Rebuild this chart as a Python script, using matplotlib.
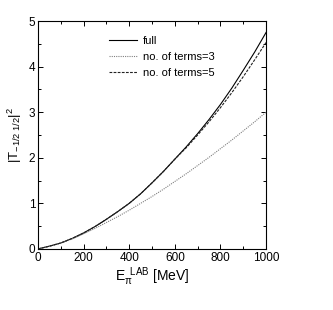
import matplotlib
matplotlib.use("Agg")
import matplotlib.pyplot as plt
from matplotlib.ticker import MultipleLocator

plt.rcParams["font.family"] = ["Liberation Sans", "DejaVu Sans"]
plt.rcParams["mathtext.fontset"] = "custom"
plt.rcParams["mathtext.rm"] = "Liberation Sans"
plt.rcParams["mathtext.it"] = "Liberation Sans"

# --- data ---
energy = [0, 50, 100, 150, 200, 250, 300, 350, 400, 450, 500,
          550, 600, 650, 700, 750, 800, 850, 900, 950, 1000]
full = [0, 0.06, 0.13, 0.23, 0.35, 0.49, 0.65, 0.82, 1.0, 1.21, 1.45,
        1.70, 1.97, 2.24, 2.53, 2.84, 3.17, 3.53, 3.92, 4.32, 4.75]
terms3 = [0, 0.06, 0.13, 0.22, 0.33, 0.45, 0.58, 0.71, 0.85, 1.0, 1.15,
          1.31, 1.48, 1.65, 1.83, 2.01, 2.20, 2.39, 2.59, 2.79, 3.0]
terms5 = [0, 0.06, 0.13, 0.23, 0.35, 0.49, 0.65, 0.82, 1.0, 1.21, 1.45,
          1.70, 1.97, 2.22, 2.50, 2.79, 3.10, 3.43, 3.78, 4.15, 4.53]

fig = plt.figure(figsize=(3.33, 3.10), dpi=100)
ax = fig.add_axes([0.114, 0.197, 0.685, 0.735])

ax.plot(energy, full, color="black", lw=0.8, label="full")
ax.plot(energy, terms3, color="#808080", lw=0.8, linestyle=(0, (1, 1)),
        label="no. of terms=3")
ax.plot(energy, terms5, color="#222222", lw=0.8, linestyle=(0, (2.5, 1.2)),
        label="no. of terms=5")

ax.set_xlim(0, 1000)
ax.set_ylim(0, 5)
ax.xaxis.set_major_locator(MultipleLocator(200))
ax.xaxis.set_minor_locator(MultipleLocator(100))
ax.yaxis.set_major_locator(MultipleLocator(1))
ax.yaxis.set_minor_locator(MultipleLocator(0.5))
ax.tick_params(which="both", direction="in", top=True, right=True,
               labelsize=8.5, width=0.7, pad=2)
ax.tick_params(which="major", length=3.5)
ax.tick_params(which="minor", length=2)
for sp in ax.spines.values():
    sp.set_linewidth(0.8)

ax.set_xlabel(r"E$_{\pi}^{\ \ \mathrm{LAB}}$ [MeV]", fontsize=10, labelpad=1)
ax.set_ylabel(r"|T$_{\mathrm{-1/2\ 1/2}}$|$^2$", fontsize=9.5, labelpad=3)

ax.legend(loc="upper left", bbox_to_anchor=(0.29, 0.955), frameon=False,
          fontsize=8, handlelength=2.6, handletextpad=0.5,
          labelspacing=0.55, borderaxespad=0)

fig.savefig("out.png", dpi=100)
